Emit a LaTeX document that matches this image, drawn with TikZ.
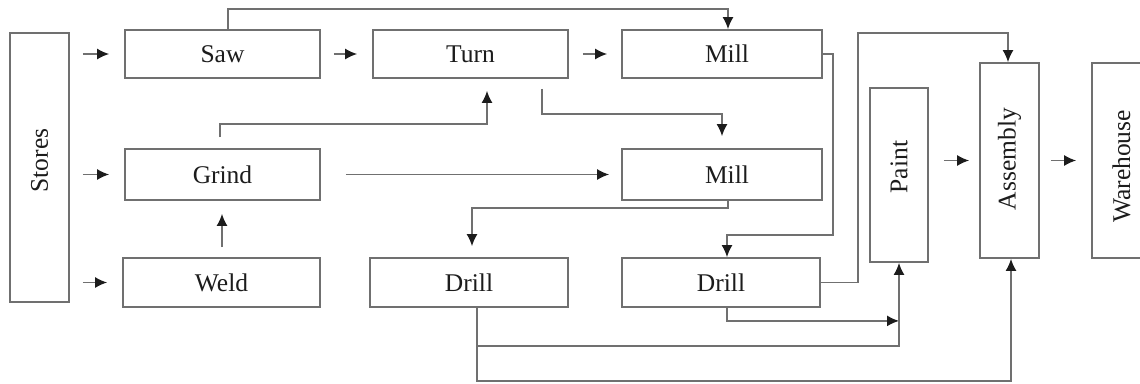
\documentclass[tikz,border=0pt]{standalone}
\usepackage{fontspec}
\setmainfont{Liberation Serif}
\usetikzlibrary{arrows.meta}
\definecolor{edge}{HTML}{707070}
\definecolor{ink}{HTML}{1C1C1C}
\tikzset{
  stage/.style={draw=edge, line width=1.8pt, inner sep=0pt, text=ink,
    font=\fontsize{25.5}{30}\selectfont, minimum height=48pt},
  flow/.style={draw=edge, line width=1.5pt,
    -{Latex[length=12pt,width=11pt,color=ink]}}
}
\begin{document}
\begin{tikzpicture}[x=1pt,y=-1pt]
\useasboundingbox (0,0) rectangle (1140,383);
\clip (0,0) rectangle (1140,383);
\fill[white] (0,0) rectangle (1140,383);

% stations
\node[stage, minimum width=59pt, minimum height=269pt] (stores) at (39.5,167.5) {\rotatebox{90}{\hspace*{14pt}Stores}};
\node[stage, minimum width=195pt] (saw)   at (222.5,54) {Saw};
\node[stage, minimum width=195pt] (turn)  at (470.5,54) {Turn};
\node[stage, minimum width=200pt] (mill1) at (722,54) {\hspace*{10pt}Mill};
\node[stage, minimum width=195pt, minimum height=51pt] (grind) at (222.5,174.5) {Grind};
\node[stage, minimum width=200pt, minimum height=51pt] (mill2) at (722,174.5) {\hspace*{10pt}Mill};
\node[stage, minimum width=197pt, minimum height=49pt] (weld)   at (221.5,282.5) {Weld};
\node[stage, minimum width=198pt, minimum height=49pt] (drill1) at (469,282.5) {Drill};
\node[stage, minimum width=198pt, minimum height=49pt] (drill2) at (721,282.5) {Drill};
\node[stage, minimum width=58pt, minimum height=174pt] (paint) at (899,175) {\rotatebox{90}{\hspace*{16pt}Paint}};
\node[stage, minimum width=59pt, minimum height=195pt] (assembly) at (1009.5,160.5) {\rotatebox{90}{\hspace*{3pt}Assembly}};
\node[stage, minimum width=59pt, minimum height=195pt] (warehouse) at (1121.5,160.5) {\rotatebox{90}{Warehouse\hspace*{12pt}}};

% short feeds between neighbouring stations
\draw[flow, shorten <=13pt, shorten >=15pt] (stores.east |- saw.west) -- (saw.west);
\draw[flow, shorten <=13pt, shorten >=15pt] (stores.east |- grind.west) -- (grind.west);
\draw[flow, shorten <=13pt, shorten >=15pt] (stores.east |- weld.west) -- (weld.west);
\draw[flow, shorten <=13pt, shorten >=15pt] (saw.east) -- (turn.west);
\draw[flow, shorten <=14pt, shorten >=14pt] (turn.east) -- (mill1.west);
\draw[flow, shorten <=10pt, shorten >=13pt] ([xshift=0.5pt]weld.north) -- ([xshift=-0.5pt]grind.south);
\draw[flow, shorten <=25pt, shorten >=12pt] (grind.east) -- (mill2.west);
\draw[flow, shorten <=15pt, shorten >=10pt] (paint.east |- assembly.west) -- (assembly.west);
\draw[flow, shorten <=11pt, shorten >=15pt] (assembly.east) -- (warehouse.west);

% routed connections
\draw[flow] ([xshift=5.5pt]saw.north) -- ++(0,-20) -| ([xshift=6pt]mill1.north);
\draw[flow, shorten <=11pt, shorten >=12pt] ([xshift=-2.5pt]grind.north) -- ++(0,-24) -| ([xshift=16.5pt]turn.south);
\draw[flow, shorten <=10pt, shorten >=12pt] ([xshift=71.5pt]turn.south) -- ++(0,35) -| (mill2.north);
\draw[flow, shorten >=11pt] ([xshift=6pt]mill2.south) -- ++(0,7) -| ([xshift=3pt]drill1.north);
\draw[flow] (mill1.east) -- ++(10,0) -- ++(0,181) -| ([xshift=6pt]drill2.north);
\draw[flow] (drill2.east) -- ++(37,0) -- ++(0,-249.5) -| ([xshift=-1.5pt]assembly.north);
\draw[flow] ([xshift=6pt]drill2.south) |- ([yshift=-58pt]paint.south);
\draw[flow] ([xshift=8pt]drill1.south) |- ([yshift=-83pt]paint.south) -- (paint.south);
\draw[flow] ([xshift=8pt]drill1.south) |- ([xshift=1.5pt,yshift=-122pt]assembly.south) -- ([xshift=1.5pt]assembly.south);
\end{tikzpicture}
\end{document}
